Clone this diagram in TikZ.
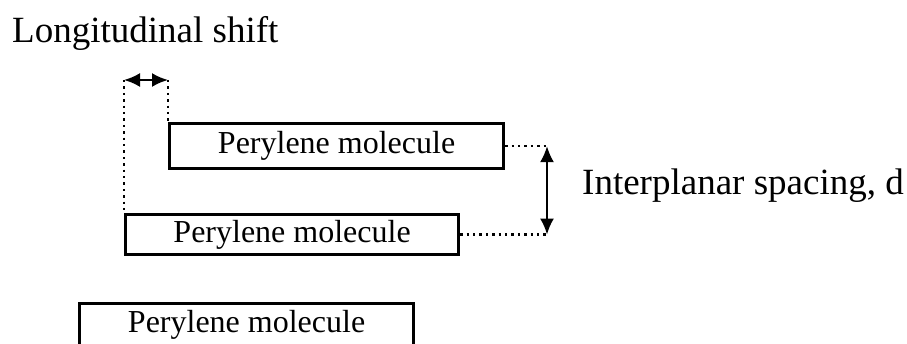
\documentclass[tikz,border=0pt]{standalone}
\usepackage{fontspec}
\setmainfont{Liberation Serif}
\usetikzlibrary{arrows.meta}
\begin{document}
\begin{tikzpicture}[x=1pt,y=-1pt,
  molbox/.style={draw, line width=3.2pt, inner sep=0pt, anchor=north west,
    font=\fontsize{32}{36}\selectfont},
  lbl/.style={inner sep=0pt, anchor=base west, font=\fontsize{37}{40}\selectfont},
  dotline/.style={line width=2.4pt, dash pattern=on 2.4pt off 4pt},
  dimarrow/.style={line width=2.2pt, {Latex[length=16pt,width=14pt]}-{Latex[length=16pt,width=14pt]}}]
  \fill[white] (0,0) rectangle (907,344);
  \clip (0,0) rectangle (907,344);
  \node[molbox, minimum width=334pt, minimum height=45pt] (m1) at (168,122) {Perylene molecule};
  \node[molbox, minimum width=333pt, minimum height=40pt] (m2) at (124,213) {Perylene molecule};
  \node[molbox, minimum width=334pt, minimum height=43pt] (m3) at (78,302) {Perylene molecule};
  \node[lbl] (ls) at (12,43) {Longitudinal shift};
  \node[lbl] (ip) at (582,195) {Interplanar spacing, d};
  \coordinate (sl) at (124,80);
  \coordinate (sr) at (168,80);
  \coordinate (xd) at (547,0);
  \coordinate (d1) at (xd |- m1.east);
  \coordinate (d2) at (xd |- m2.east);
  \draw[dotline] (sl) -- (m2.north west);
  \draw[dotline] (sr) -- (m1.north west);
  \draw[dotline] (m1.east) -- (d1);
  \draw[dotline] (m2.east) -- (d2);
  \draw[dimarrow] (sl) -- (sr);
  \draw[dimarrow] (d1) -- (d2);
\end{tikzpicture}
\end{document}
